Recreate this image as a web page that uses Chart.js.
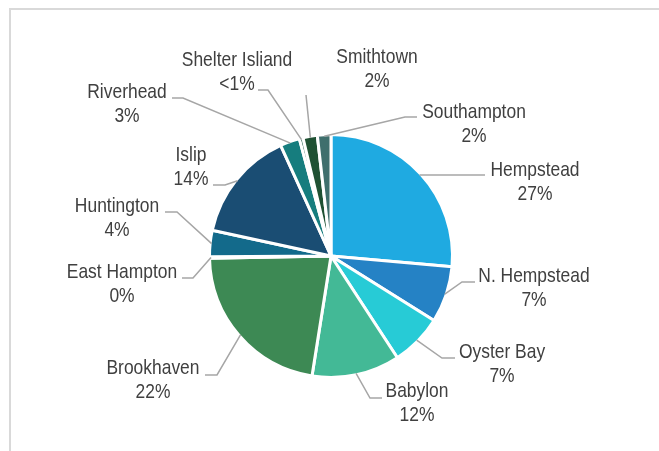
<!DOCTYPE html>
<html>
<head>
<meta charset="utf-8">
<script src="https://cdn.jsdelivr.net/npm/chart.js@4/dist/chart.umd.min.js"></script>
<style>
  html, body { margin: 0; padding: 0; background: #fff; }
  #wrap { position: relative; width: 659px; height: 451px; overflow: hidden; }
  #frame {
    position: absolute; left: 9px; top: 8px; width: 700px; height: 500px;
    border-top: 2px solid #d9d9d9; border-left: 2px solid #d9d9d9;
  }
  canvas { position: absolute; left: 0; top: 0; }
</style>
</head>
<body>
<div id="wrap">
  <div id="frame"></div>
  <canvas id="chart" width="659" height="451"></canvas>
</div>
<script>
// data
const towns = [
  "Hempstead", "N. Hempstead", "Oyster Bay", "Babylon", "Brookhaven", "East Hampton",
  "Huntington", "Islip", "Riverhead", "Shelter Isliand", "Smithtown", "Southampton",
];
const shares = [26.4, 7.5, 6.9, 11.7, 22.2, 0.2, 3.5, 14.8, 2.6, 0.5, 1.9, 1.8];
const shareLabels = ["27%", "7%", "7%", "12%", "22%", "0%", "4%", "14%", "3%", "<1%", "2%", "2%"];

const sliceColors = [
  "#1faae1", "#2582c5", "#27cbd6", "#43b996", "#3d8954", "#2f7a6e",
  "#136a8b", "#1a4d73", "#167d7e", "#2a6050", "#1f5133", "#3f6f6d",
];

// label placement, offsets from pie centre: label (first line centre),
// leader end, optional elbow; line = which text line the leader meets
const LABEL_LAYOUT = [
  { lx: 204, ly: -86, ex: 154, ey: -81, line: 0 },
  { lx: 203, ly: 20, ex: 144, ey: 26, bx: 131, line: 0 },
  { lx: 171, ly: 96, ex: 124, ey: 102, bx: 111, line: 0 },
  { lx: 86, ly: 135, ex: 51, ey: 142, bx: 39, line: 0 },
  { lx: -178, ly: 112, ex: -126, ey: 119, bx: -114, line: 0 },
  { lx: -209, ly: 16, ex: -149, ey: 22, bx: -138, line: 0 },
  { lx: -214, ly: -50, ex: -166, ey: -44, bx: -154, line: 0 },
  { lx: -140, ly: -101, ex: -118, ey: -71, bx: -106, line: 1 },
  { lx: -204, ly: -164, ex: -159, ey: -158, bx: -148, line: 0 },
  { lx: -94, ly: -196, ex: -73, ey: -166, bx: -63, line: 1 },
  { lx: 46, ly: -199, ex: -25, ey: -161, line: 0 },
  { lx: 143, ly: -144, ex: 86, ey: -139, bx: 74, line: 0 },
];

const FONT_PX = 21;
const NARROW = 0.83;
const LINE_GAP = 24;

const outsideLabels = {
  id: "outsideLabels",
  afterDatasetsDraw(chart) {
    const { ctx } = chart;
    const arcs = chart.getDatasetMeta(0).data;

    ctx.save();
    arcs.forEach((arc, i) => {
      const { x, y, startAngle, endAngle, outerRadius } =
        arc.getProps(["x", "y", "startAngle", "endAngle", "outerRadius"], true);
      const mid = (startAngle + endAngle) / 2;
      const r = outerRadius - 1.5;
      const ax = x + Math.cos(mid) * r;
      const ay = y + Math.sin(mid) * r;
      const L = LABEL_LAYOUT[i];

      // leader line
      ctx.strokeStyle = "#a6a6a6";
      ctx.lineWidth = 1.5;
      ctx.beginPath();
      ctx.moveTo(ax, ay);
      if (L.bx !== undefined) ctx.lineTo(x + L.bx, y + L.ey);
      ctx.lineTo(x + L.ex, y + L.ey);
      ctx.stroke();

      // two-line label, narrow face
      ctx.fillStyle = "#404040";
      ctx.font = FONT_PX + "px 'Liberation Sans', Arial, sans-serif";
      ctx.textAlign = "center";
      ctx.textBaseline = "middle";
      [towns[i], shareLabels[i]].forEach((t, k) => {
        ctx.save();
        ctx.translate(x + L.lx, y + L.ly + k * LINE_GAP);
        ctx.scale(NARROW, 1);
        ctx.fillText(t, 0, 0);
        ctx.restore();
      });
    });
    ctx.restore();
  },
};

new Chart(document.getElementById("chart"), {
  type: "pie",
  data: {
    labels: towns,
    datasets: [{
      data: shares,
      backgroundColor: sliceColors,
      borderColor: "#ffffff",
      borderWidth: 3,
    }],
  },
  options: {
    responsive: false,
    animation: false,
    layout: { padding: { left: 208, right: 205, top: 133, bottom: 72 } },
    plugins: {
      legend: { display: false },
      tooltip: { enabled: false },
    },
  },
  plugins: [outsideLabels],
});
</script>
</body>
</html>
